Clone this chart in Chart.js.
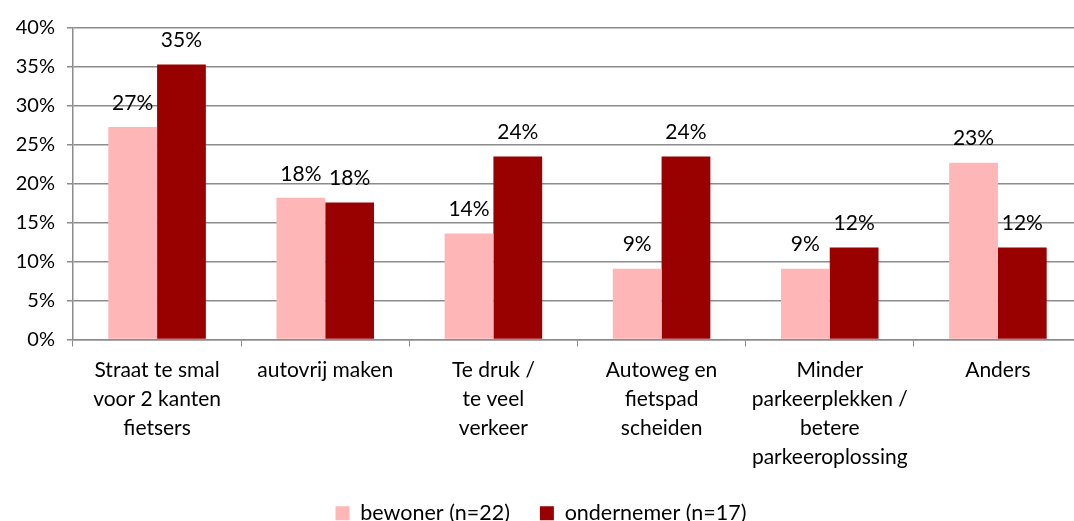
<!DOCTYPE html>
<html>
<head>
<meta charset="utf-8">
<script src="https://cdn.jsdelivr.net/npm/chart.js@4"></script>
<style>
  html, body { margin: 0; padding: 0; background: #fff; overflow: hidden; }
  #wrap { width: 1090px; height: 521px; }
</style>
</head>
<body>
<div id="wrap"><canvas id="chart" width="1090" height="521"></canvas></div>
<script>
const categorieen = [
    ['Straat te smal', 'voor 2 kanten', 'fietsers'],
    'autovrij maken',
    ['Te druk /', 'te veel', 'verkeer'],
    ['Autoweg en', 'fietspad', 'scheiden'],
    ['Minder', 'parkeerplekken /', 'betere', 'parkeeroplossing'],
    'Anders'
]

const bewoner = [27.3, 18.2, 13.6, 9.1, 9.1, 22.7]
const ondernemer = [35.3, 17.6, 23.5, 23.5, 11.8, 11.8]

const yTicks = [0, 5, 10, 15, 20, 25, 30, 35, 40]

const fonte = 'Lato, "Open Sans", sans-serif'
const grijs = '#8c8c8c'

// labels boven de balken
const labelsPlugin = {
    id: 'labels',
    afterDatasetsDraw(chart) {
        const ctx = chart.ctx
        ctx.save()
        ctx.font = '21px ' + fonte
        ctx.fillStyle = '#000'
        ctx.textAlign = 'center'
        ctx.textBaseline = 'middle'
        chart.data.datasets.forEach((ds, i) => {
            chart.getDatasetMeta(i).data.forEach((bar, j) => {
                ctx.fillText(Math.round(ds.data[j]) + '%', bar.x, bar.y - 24)
            })
        })
        ctx.restore()
    }
}

new Chart(document.getElementById('chart'), {
    type: 'bar',
    data: {
        labels: categorieen,
        datasets: [
            { label: 'bewoner (n=22)', data: bewoner, backgroundColor: '#ffb6b6' },
            { label: 'ondernemer (n=17)', data: ondernemer, backgroundColor: '#990000' }
        ]
    },
    options: {
        responsive: false,
        animation: false,
        layout: { padding: { top: 28, right: 8, left: 0, bottom: -13 } },
        datasets: {
            bar: { categoryPercentage: 0.58, barPercentage: 1 }
        },
        scales: {
            x: {
                grid: { offset: true, drawOnChartArea: false, color: grijs, tickLength: 7 },
                border: { color: grijs, width: 1.5 },
                ticks: {
                    color: '#000',
                    font: { family: fonte, size: 21, lineHeight: 1.38 },
                    padding: 9,
                    maxRotation: 0,
                    autoSkip: false
                },
                afterFit(scale) { scale.height = 133 }
            },
            y: {
                min: 0,
                max: 40,
                afterBuildTicks(scale) { scale.ticks = yTicks.map(v => ({ value: v })) },
                grid: { color: grijs, lineWidth: 1.5, tickLength: 6 },
                border: { color: grijs, width: 1.5 },
                ticks: {
                    color: '#000',
                    font: { family: fonte, size: 20 },
                    padding: 12,
                    callback: v => v + '%'
                },
                afterFit(scale) { scale.width = 73 }
            }
        },
        plugins: {
            legend: {
                position: 'bottom',
                labels: {
                    color: '#000',
                    font: { family: fonte, size: 21.5 },
                    boxWidth: 14,
                    boxHeight: 14,
                    padding: 30
                }
            },
            tooltip: { enabled: false }
        }
    },
    plugins: [labelsPlugin]
})
</script>
</body>
</html>
